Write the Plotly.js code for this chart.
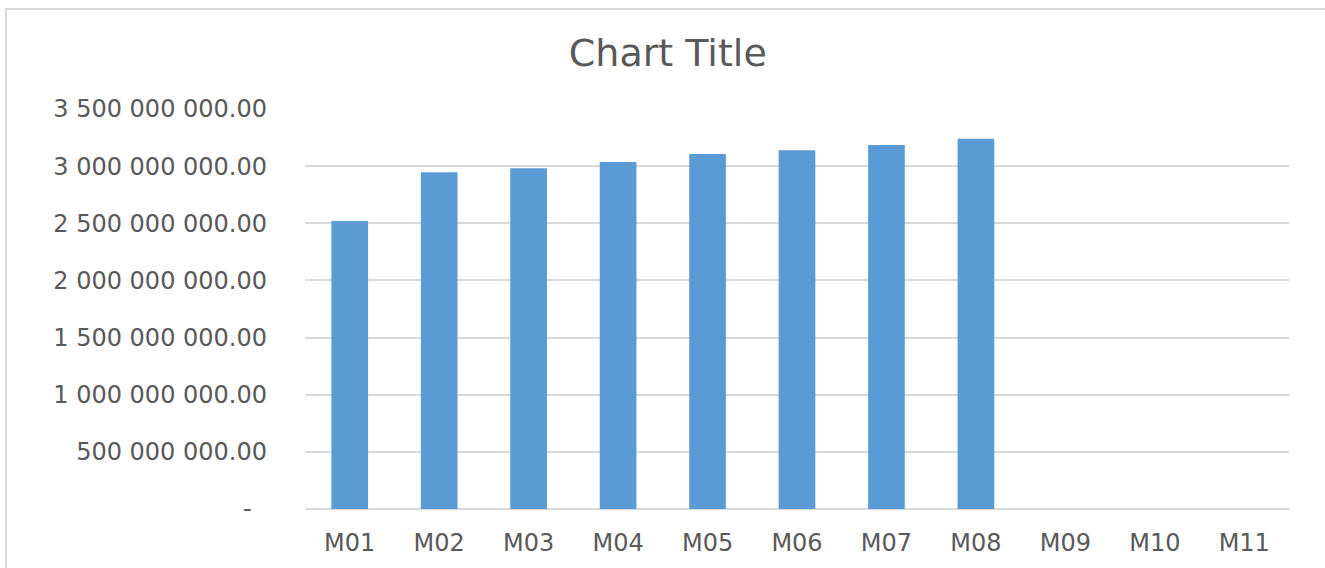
<!DOCTYPE html>
<html>
<head>
<meta charset="utf-8">
<script src="https://cdn.plot.ly/plotly-3.0.1.min.js"></script>
<style>
  html, body { margin: 0; padding: 0; background: #ffffff; overflow: hidden; }
  #chart { width: 1325px; height: 568px; position: absolute; left: 0; top: 0; }
  #frame { position: absolute; left: 5px; top: 8px; width: 1340px; height: 600px;
           border: 2px solid #d9d9d9; pointer-events: none; box-sizing: border-box; }
</style>
</head>
<body>
<div id="chart"></div>
<div id="frame"></div>
<script>
const categories = ["M01","M02","M03","M04","M05","M06","M07","M08","M09","M10","M11"];
const values = [2520000000, 2946000000, 2981000000, 3036000000, 3106000000, 3138000000, 3185000000, 3240000000, null, null, null];
const yTickVals = [0, 500000000, 1000000000, 1500000000, 2000000000, 2500000000, 3000000000, 3500000000];
const yTickText = ["-\u00a0\u00a0", "500 000 000.00", "1 000 000 000.00", "1 500 000 000.00", "2 000 000 000.00", "2 500 000 000.00", "3 000 000 000.00", "3 500 000 000.00"];
const chartTitle = "Chart Title";

const fontFam = "DejaVu Sans, Open Sans, sans-serif";
const trace = {
  type: "bar",
  x: categories,
  y: values,
  marker: { color: "#5b9bd5" },
  hoverinfo: "x+y"
};

const layout = {
  width: 1325,
  height: 568,
  paper_bgcolor: "rgba(0,0,0,0)",
  plot_bgcolor: "#ffffff",
  margin: { l: 305, r: 36, t: 109, b: 59, pad: 0 },
  bargap: 0.59,
  showlegend: false,
  title: {
    text: chartTitle,
    font: { family: fontFam, size: 38, color: "#595959" },
    x: 0.504, xanchor: "center", xref: "container",
    y: 1 - 53 / 568, yanchor: "middle", yref: "container"
  },
  xaxis: {
    type: "category",
    categoryarray: categories,
    categoryorder: "array",
    range: [-0.5, categories.length - 0.5],
    showgrid: false,
    showline: false,
    zeroline: false,
    ticks: "",
    ticklabelstandoff: 17,
    tickfont: { family: fontFam, size: 24, color: "#595959" }
  },
  yaxis: {
    range: [0, 3500000000],
    tickmode: "array",
    tickvals: yTickVals,
    ticktext: yTickText,
    showgrid: true,
    gridcolor: "#d9d9d9",
    gridwidth: 2,
    zeroline: true,
    zerolinecolor: "#d9d9d9",
    zerolinewidth: 2,
    showline: false,
    ticks: "",
    ticklabelstandoff: 37,
    tickfont: { family: fontFam, size: 24, color: "#595959" }
  }
};

Plotly.newPlot("chart", [trace], layout, { displayModeBar: false, staticPlot: true });
</script>
</body>
</html>
